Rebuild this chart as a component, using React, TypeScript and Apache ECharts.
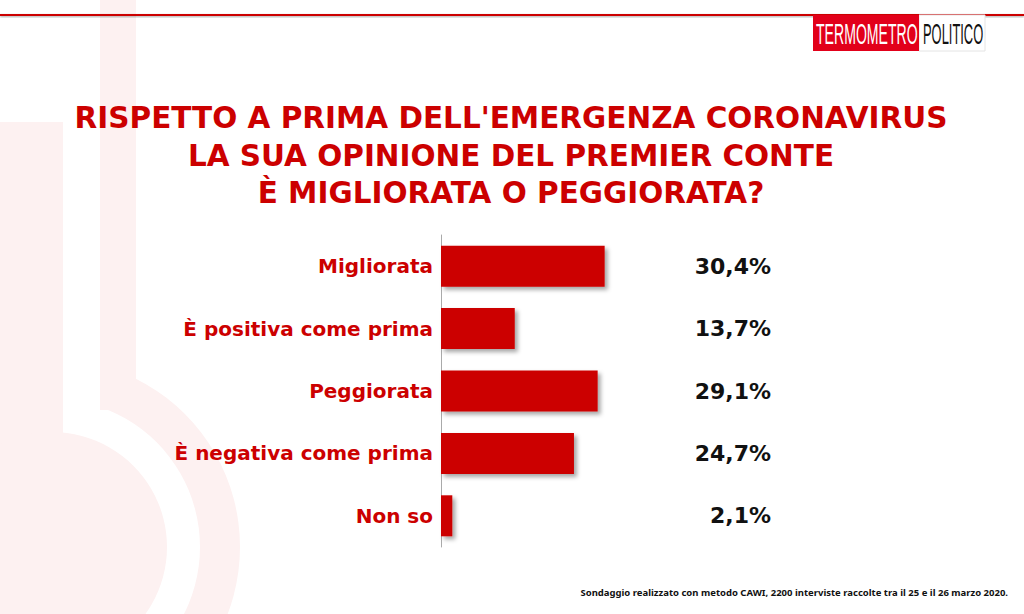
import React, { useEffect, useRef } from "react";
import * as echarts from "echarts";

const categories = [
  "Migliorata",
  "È positiva come prima",
  "Peggiorata",
  "È negativa come prima",
  "Non so",
];
const values = [30.4, 13.7, 29.1, 24.7, 2.1];
const valueLabels = values.map((v) => v.toFixed(1).replace(".", ",") + "%");
const titleLines = [
  "RISPETTO A PRIMA DELL'EMERGENZA CORONAVIRUS",
  "LA SUA OPINIONE DEL PREMIER CONTE",
  "È MIGLIORATA O PEGGIORATA?",
];
const footnote =
  "Sondaggio realizzato con metodo CAWI, 2200 interviste raccolte tra il 25 e il 26 marzo 2020.";

const RED = "#cc0000";
const PINK = "#fdf1f1";
const FONT = "'DejaVu Sans', sans-serif";

export default function App() {
  const ref = useRef<HTMLDivElement>(null);
  useEffect(() => {
    const chart = echarts.init(ref.current!, null, { renderer: "svg" });
    const titleY = [118, 155.5, 193];
    chart.setOption({
      animation: false,
      backgroundColor: "#ffffff",
      graphic: [
        // watermark thermometer
        { type: "ring", z: -10, shape: { cx: 52, cy: 547, r0: 148, r: 188 }, style: { fill: PINK } },
        { type: "rect", z: -10, shape: { x: 63, y: 0, width: 37, height: 410 }, style: { fill: "#ffffff" } },
        { type: "rect", z: -10, shape: { x: 100, y: 0, width: 36, height: 410 }, style: { fill: PINK } },
        { type: "rect", z: -10, shape: { x: 0, y: 122, width: 63, height: 492 }, style: { fill: PINK } },
        { type: "circle", z: -10, shape: { cx: 52, cy: 547, r: 115 }, style: { fill: PINK } },
        // title
        ...titleLines.map((t, i) => ({
          type: "text",
          z: 5,
          x: 511,
          y: titleY[i],
          style: { text: t, fill: RED, font: "bold 29.5px " + FONT, textAlign: "center", textVerticalAlign: "middle" },
        })),
        // top line
        { type: "rect", z: 5, shape: { x: 0, y: 14, width: 1024, height: 2 }, style: { fill: RED, shadowBlur: 2, shadowColor: "rgba(0,0,0,0.35)", shadowOffsetY: 1 } },
        // logo
        { type: "rect", z: 6, shape: { x: 919, y: 15, width: 66, height: 36 }, style: { fill: "#ffffff", stroke: "#e4e4e4", lineWidth: 1 } },
        { type: "rect", z: 6, shape: { x: 813, y: 15, width: 106, height: 36 }, style: { fill: "#e2001a" } },
        { type: "text", z: 7, x: 816, y: 34, scaleX: 0.47, style: { text: "TERMOMETRO", fill: "#ffffff", font: "normal 30px 'Liberation Sans', sans-serif", textAlign: "left", textVerticalAlign: "middle" } },
        { type: "text", z: 7, x: 923, y: 34, scaleX: 0.43, style: { text: "POLITICO", fill: "#111111", font: "normal 30px 'Liberation Sans', sans-serif", textAlign: "left", textVerticalAlign: "middle" } },
        // footnote
        { type: "text", z: 5, x: 1008, y: 592, style: { text: footnote, fill: "#111111", font: "bold 9.5px 'Noto Sans', sans-serif", textAlign: "right", textVerticalAlign: "middle" } },
      ],
      grid: { left: 441, right: 260, top: 235, height: 312 },
      xAxis: { type: "value", min: 0, max: 60, show: false },
      yAxis: [
        {
          type: "category",
          data: categories,
          inverse: true,
          axisLine: { show: true, lineStyle: { color: "#aaaaaa", width: 1 } },
          axisTick: { show: false },
          axisLabel: { color: RED, fontFamily: FONT, fontWeight: "bold", fontSize: 20, margin: 8 },
        },
        {
          type: "category",
          data: valueLabels,
          inverse: true,
          position: "right",
          axisLine: { show: false },
          axisTick: { show: false },
          axisLabel: { color: "#111111", fontFamily: FONT, fontWeight: "bold", fontSize: 22, margin: 7, align: "right" },
        },
      ],
      series: [
        {
          type: "bar",
          data: values,
          barWidth: 41,
          itemStyle: {
            color: RED,
            shadowBlur: 4,
            shadowColor: "rgba(0,0,0,0.35)",
            shadowOffsetX: 3,
            shadowOffsetY: 3,
          },
        },
      ],
    });
    return () => chart.dispose();
  }, []);
  return (
    <div
      ref={ref}
      style={{ position: "fixed", left: 0, top: 0, width: 1024, height: 614 }}
    />
  );
}
